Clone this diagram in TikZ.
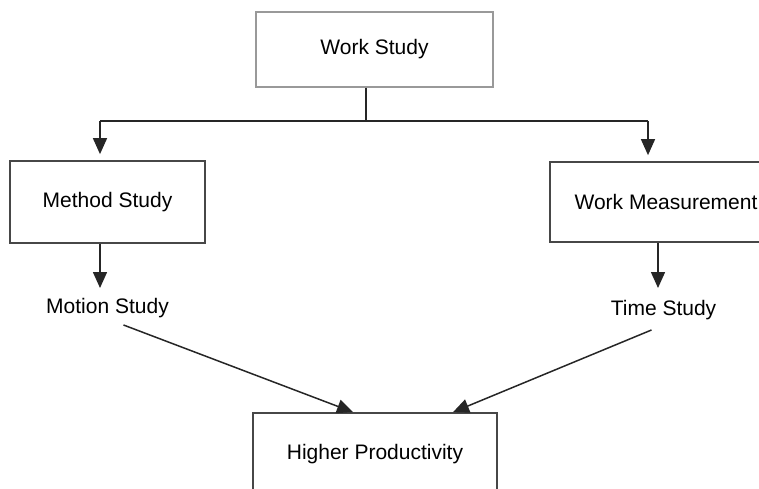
\documentclass[tikz,border=0pt]{standalone}
\usepackage{fontspec}
\setmainfont{Liberation Sans}
\usetikzlibrary{arrows.meta}
\begin{document}
\begin{tikzpicture}[x=1pt,y=-1pt,
  box/.style={draw=black!72, line width=1.7pt, rectangle, inner sep=0pt, font=\fontsize{21}{24}\selectfont},
  topbox/.style={box, draw=black!40, line width=1.4pt},
  lbl/.style={inner sep=0pt, font=\fontsize{21}{24}\selectfont},
  conn/.style={draw=black!85, line width=1.5pt},
  arr/.style={conn, -{Triangle[width=14pt,length=16pt]}}]
\useasboundingbox (0,0) rectangle (759,489);
\node[topbox, minimum width=237pt, minimum height=75pt] (ws) at (374.5,49.5) {Work Study};
\node[box, minimum width=195pt, minimum height=82pt] (ms) at (107.5,202) {Method Study};
\node[box, minimum width=232pt, minimum height=80pt] (wm) at (666,202) {Work Measurement};
\node[box, minimum width=244pt, minimum height=82pt] (hp) at (375,454) {Higher Productivity};
\node[lbl] (mot) at (107.5,308) {Motion Study};
\node[lbl] (tim) at (663.5,310) {Time Study};
\coordinate (j) at (366,121);
\coordinate (jl) at (100,121);
\coordinate (jr) at (648,121);
\draw[conn] (ws.south -| j) -- (j);
\draw[conn] (jl) -- (jr);
\draw[arr] (jl) -- ([yshift=6pt]jl |- ms.north);
\draw[arr] (jr) -- ([yshift=6pt]jr |- wm.north);
\draw[arr] (ms.south -| jl) -- ([yshift=10pt]jl |- mot.north);
\draw[arr] ([xshift=-8pt]wm.south) -- ([xshift=-8pt,yshift=12pt]wm.south |- tim.north);
\draw[arr] ([xshift=16pt,yshift=-7pt]mot.south) -- ([xshift=-22pt]hp.north);
\draw[arr] ([xshift=-12pt,yshift=-10pt]tim.south) -- ([xshift=78pt]hp.north);
\end{tikzpicture}
\end{document}
